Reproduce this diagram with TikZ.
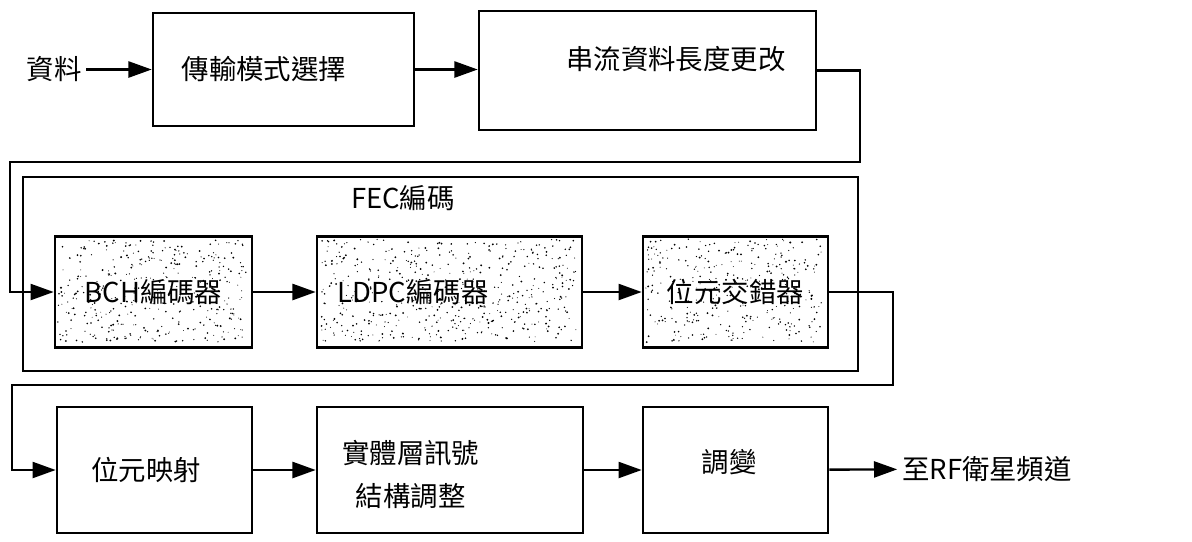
\documentclass[tikz,border=0pt]{standalone}
\usepackage{fontspec}
\setmainfont{Noto Sans CJK TC}
\usetikzlibrary{arrows.meta,backgrounds}

\tikzset{
  box/.style={draw, line width=1.8pt},
  txt/.style={font=\fontsize{19.5}{30.5}\selectfont, align=center},
  arr/.style={line width=1.7pt, -{Triangle[length=0.58cm,width=0.4cm]}},
}

% random specks inside a node: name, width, height (px), count
\newcommand\speckle[4]{%
  \foreach \k in {1,...,#4}{
    \fill ([shift={({4+rnd*(#2-8)},{4+rnd*(#3-8)})}]#1.north west) circle ({0.45+0.6*rnd});
  }}

\begin{document}
\begin{tikzpicture}[x=0.025cm, y=-0.025cm]
  \useasboundingbox (0,0) rectangle (1192,541);
  \pgfmathsetseed{12}

  % Top row
  \node[txt] (data) at (54,69.5) {資料};
  \node[box, minimum width=6.525cm, minimum height=2.825cm,
        label={[txt, xshift=-0.49cm]center:傳輸模式選擇}] (mode) at (283.5,69.5) {};
  \node[box, minimum width=8.425cm, minimum height=2.975cm,
        label={[txt, xshift=0.71cm, yshift=0.29cm]center:串流資料長度更改}] (len) at (647.5,70.5) {};

  % FEC block
  \node[draw, line width=1.3pt, minimum width=20.875cm, minimum height=4.85cm] (fec) at (440.5,274) {};
  \node[txt] (feclbl) at (403,198) {FEC編碼};
  \node[box, minimum width=4.925cm, minimum height=2.775cm,
        label={[txt]center:BCH編碼器}] (bch) at (153.5,292) {};
  \node[box, minimum width=6.625cm, minimum height=2.775cm,
        label={[txt, xshift=-0.91cm]center:LDPC編碼器}] (ldpc) at (449.5,292) {};
  \node[box, minimum width=4.625cm, minimum height=2.775cm,
        label={[txt]center:位元交錯器}] (intl) at (735.5,292) {};
  \begin{scope}[on background layer]
    \speckle{bch}{197}{111}{380}
    \speckle{ldpc}{265}{111}{500}
    \speckle{intl}{185}{111}{350}
  \end{scope}

  % Bottom row
  \node[box, minimum width=4.875cm, minimum height=3.15cm,
        label={[txt, xshift=-0.21cm]center:位元映射}] (map) at (154.5,470) {};
  \node[box, minimum width=6.65cm, minimum height=3.15cm,
        label={[txt, xshift=-0.98cm, yshift=-0.12cm]center:實體層訊號\\結構調整}] (frame) at (450,470) {};
  \node[box, minimum width=4.625cm, minimum height=3.15cm,
        label={[txt, xshift=-0.16cm, yshift=0.19cm]center:調變}] (mod) at (735.5,470) {};
  \node[txt] (out) at (987,469) {至RF衛星頻道};

  % Connectors
  \draw[arr] (data) -- (mode);
  \draw[arr] (mode.east) -- (len.west |- mode.east);
  \coordinate (k1) at (860,162);
  \coordinate (k2) at (10,162);
  \draw[arr] (len.east) -| (k1) -- (k2) |- (bch.west);
  \draw[arr] (bch) -- (ldpc);
  \draw[arr] (ldpc) -- (intl);
  \coordinate (k3) at (893,385);
  \coordinate (k4) at (12,385);
  \draw[arr] (intl.east) -| (k3) -- (k4) |- (map.west);
  \draw[arr] (map) -- (frame);
  \draw[arr] (frame) -- (mod);
  \draw[arr] (mod) -- (out);
\end{tikzpicture}
\end{document}
